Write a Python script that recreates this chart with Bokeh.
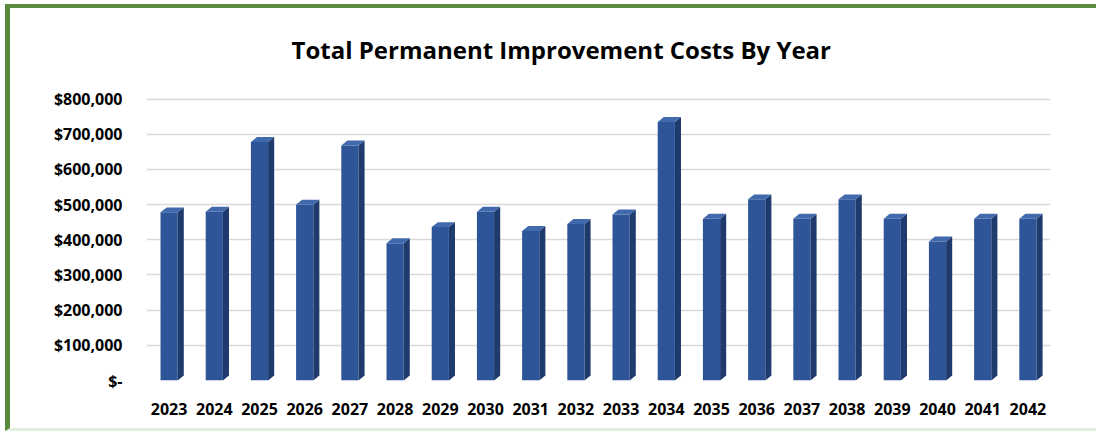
from bokeh.plotting import figure
from bokeh.models import FixedTicker, Range1d
from bokeh.embed import file_html
from bokeh.resources import INLINE

years = ["2023", "2024", "2025", "2026", "2027", "2028", "2029", "2030", "2031", "2032",
         "2033", "2034", "2035", "2036", "2037", "2038", "2039", "2040", "2041", "2042"]
costs = [478000, 480000, 678000, 500000, 668000, 390000, 436000, 480000, 425000, 445000,
         472000, 735000, 460000, 515000, 460000, 515000, 460000, 395000, 460000, 460000]
y_ticks = [0, 100000, 200000, 300000, 400000, 500000, 600000, 700000, 800000]
y_labels = ["$-", "$100,000", "$200,000", "$300,000", "$400,000", "$500,000",
            "$600,000", "$700,000", "$800,000"]

FRONT = "#2E5597"
SIDE = "#1F3B6E"
TOP = "#4169AD"
FONT = "Open Sans"

W, H = 1091, 427
p = figure(width=W, height=H, output_backend="svg", toolbar_location=None,
           x_range=Range1d(-0.5, len(years) - 0.5), y_range=Range1d(0, 830000),
           min_border_left=136, min_border_right=51, min_border_top=76, min_border_bottom=55,
           title="Total Permanent Improvement Costs By Year",
           styles={"border-top": "4px solid #5A8A3C", "border-left": "5px solid #5A8A3C",
                   "border-bottom": "3px solid #E2EFDA", "margin": "4px 0 0 5px"})

p.title.text_font = FONT
p.title.text_font_size = "24px"
p.title.text_font_style = "bold"
p.title.text_color = "#000000"
p.title.align = "left"
p.title.offset = 145
p.title.standoff = 45

xs = list(range(len(years)))
hw = 0.19
dx = 0.135
dy = 14000

p.vbar(x=xs, top=costs, width=2 * hw, fill_color=FRONT, line_color=None)
side_x = [[i + hw, i + hw + dx, i + hw + dx, i + hw] for i in xs]
side_y = [[0, dy, v + dy, v] for v in costs]
p.patches(side_x, side_y, fill_color=SIDE, line_color=None)
top_x = [[i - hw, i + hw, i + hw + dx, i - hw + dx] for i in xs]
top_y = [[v, v, v + dy, v + dy] for v in costs]
p.patches(top_x, top_y, fill_color=TOP, line_color=None)

p.xaxis.ticker = FixedTicker(ticks=xs)
p.xaxis.major_label_overrides = {i: y for i, y in zip(xs, years)}
p.yaxis.ticker = FixedTicker(ticks=y_ticks)
p.yaxis.major_label_overrides = {t: l for t, l in zip(y_ticks, y_labels)}

for ax in (p.xaxis, p.yaxis):
    ax.axis_line_color = None
    ax.major_tick_line_color = None
    ax.minor_tick_line_color = None
    ax.major_label_text_font = FONT
    ax.major_label_text_font_style = "bold"
    ax.major_label_text_font_size = "16px"
    ax.major_label_text_color = "#000000"
p.xaxis.major_label_standoff = 16
p.yaxis.major_label_standoff = 18

p.xgrid.grid_line_color = None
p.ygrid.grid_line_color = "#D9D9D9"
p.ygrid.grid_line_width = 1.5
p.outline_line_color = None
p.background_fill_color = "#FFFFFF"
p.border_fill_color = "#FFFFFF"

open("out.html", "w").write(file_html(p, INLINE))
